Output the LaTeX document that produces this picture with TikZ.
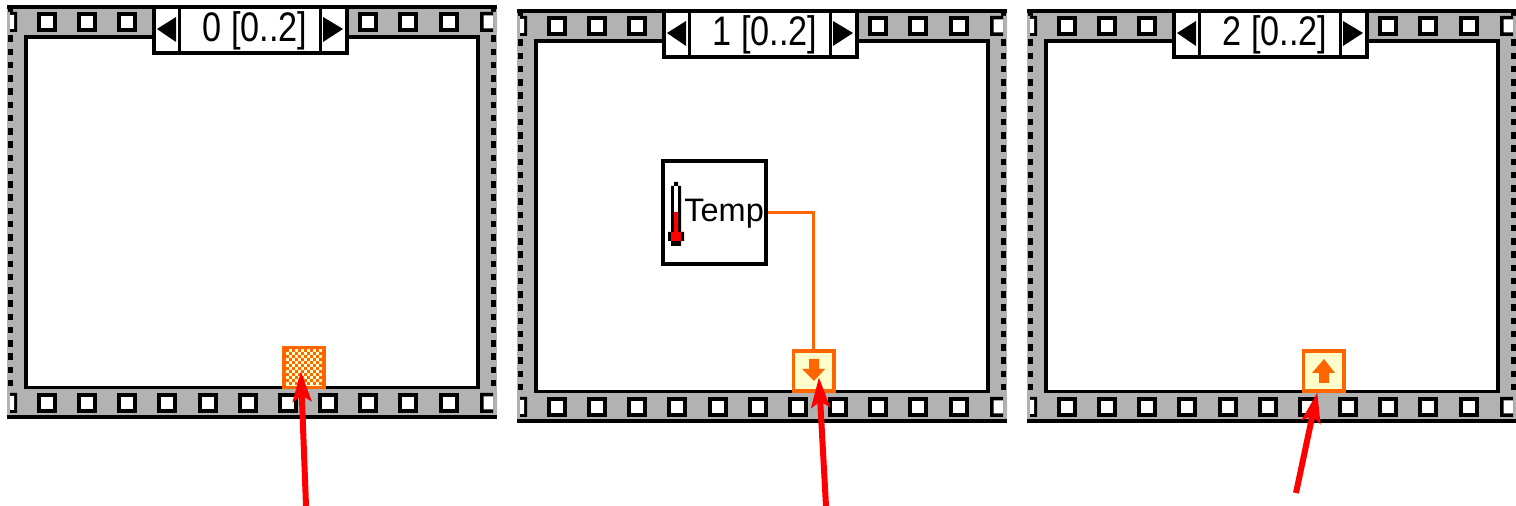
\documentclass[tikz,border=0pt]{standalone}
\usepackage{fontspec}
\setmainfont{Liberation Sans}
\newfontfamily\counterfont[FakeStretch=0.83]{Liberation Sans}
\usetikzlibrary{arrows.meta,calc}
\definecolor{filmgray}{HTML}{B2B2B2}
\definecolor{wireorange}{HTML}{FF6600}
\definecolor{tunnelfill}{HTML}{FFFFCC}

\begin{document}
\begin{tikzpicture}[
    x=0.02cm, y=-0.02cm,
    film/.style={rectangle, fill=filmgray, minimum width=9.8cm, minimum height=8.28cm, inner sep=0pt},
    pane/.style={rectangle, draw, line width=0.075cm, fill=white, minimum width=9.05cm, minimum height=7.01cm, inner sep=0pt},
    hole/.style={rectangle, draw, line width=0.08cm, fill=white, minimum width=0.32cm, minimum height=0.32cm, inner sep=0pt},
    stepper/.style={rectangle, draw, line width=0.07cm, fill=white, minimum height=0.92cm, inner sep=0pt},
    tunnel/.style={rectangle, draw=wireorange, line width=0.07cm, fill=tunnelfill, minimum width=0.81cm, minimum height=0.81cm, inner sep=0pt},
    countlabel/.style={font=\counterfont\fontsize{23.5}{24}\selectfont, inner sep=0pt},
    wire/.style={draw=wireorange, line width=0.065cm},
    pointer/.style={draw=red, line width=0.12cm, -{Stealth[length=0.6cm, width=0.37cm, inset=0.12cm]}, shorten >=-1pt}
]
\useasboundingbox (0,0) rectangle (1516,506);
% film frames
\foreach \i/\dx/\dy in {0/0/0, 1/510/4, 2/1020/4} {
  \begin{scope}[shift={(\dx,\dy)}]
    \node[film] (film\i) at (252,212) {};
    \draw[line width=0.08cm] (7,7) -- (497,7) (7,417.5) -- (497,417.5);
    % torn edges
    \draw[line width=0.1cm, dash pattern=on 0.13cm off 0.135cm] (10.5,9) -- (10.5,416);
    \draw[line width=0.1cm, dash pattern=on 0.13cm off 0.135cm] (493,9) -- (493,416);
    \node[pane] (pane\i) at (252,212.25) {};
    % sprocket holes
    \foreach \k in {0,...,10} {
      \node[hole] (low\i\k) at ({47+40.15*\k},403) {};
    }
    \foreach \k in {0,1,2,8,9,10} {
      \node[hole] (up\i\k) at ({47+40.15*\k},22) {};
    }
    % cut holes at the ends
    \foreach \y in {12,393} {
      \fill[filmgray] (7,\y) rectangle (17,\y+20) (480,\y) rectangle (497,\y+20);
      \fill (10,\y) rectangle (17,\y+20) (480,\y) rectangle (493,\y+20);
      \fill[white] (10,\y+3) rectangle (14,\y+17) (483.5,\y+3.5) rectangle (493,\y+16.5);
    }
    % frame counter
    \node[stepper, minimum width=3.87cm] (count\i) at (250.5,30) {};
    \draw[line width=0.07cm] (179.5,9) -- (179.5,53) (320.5,9) -- (320.5,53);
    \fill (157,29) -- (176,17) -- (176,42) -- cycle;
    \fill (343,29) -- (323,17) -- (323,42) -- cycle;
  \end{scope}
}
% frame numbers
\node[countlabel] (num0) at (255,31) {0 [0..2]};
\node[countlabel] (num1) at (765,35) {1 [0..2]};
\node[countlabel] (num2) at (1275,35) {2 [0..2]};

% sequence local, unwired
\node[tunnel] (local0) at (304,367.5) {};
\foreach \r in {0,...,11} {
  \foreach \c in {0,...,11} {
    \pgfmathparse{int(mod(\r+\c,2))}
    \ifnum\pgfmathresult=0
      \fill[wireorange] ({285.5+3*\c},{349.5+3*\r}) rectangle ++(3,3);
    \fi
  }
}

% temperature terminal
\node[rectangle, draw, line width=0.08cm, fill=white, minimum width=2.06cm, minimum height=2.06cm, inner sep=0pt] (temp) at (714.5,212.5) {};
\node[font=\fontsize{18.5}{18}\selectfont, inner sep=0pt, anchor=base west] (templabel) at (684,222) {Temp};
\fill (674,182) rectangle (678,186) (671,186) rectangle (681,232) (668,232) rectangle (684,241) (671,241) rectangle (681,246);
\fill[white] (674,186) rectangle (678,212);
\fill[red] (674,212) rectangle (678,232) (671,232) rectangle (681,241);

% sequence locals with arrows
\node[tunnel] (local1) at (813.5,371) {};
\fill[wireorange] (809,359) rectangle (819,369) (802,369) -- (825,369) -- (814,381) -- cycle;
\node[tunnel] (local2) at (1323.5,371) {};
\fill[wireorange] (1319,373) rectangle (1329,383) (1312,373) -- (1335,373) -- (1324,359) -- cycle;
\draw[wire] (temp.east) -| (local1.north);

% pointers
\coordinate (tail0) at (306,506);
\coordinate (tip0) at (301,373);
\coordinate (tail1) at (826,506);
\coordinate (tip1) at (819,379);
\coordinate (tail2) at (1296,493);
\coordinate (tip2) at (1317,394);
\draw[pointer] (tail0) -- (tip0);
\draw[pointer] (tail1) -- (tip1);
\draw[pointer] (tail2) -- (tip2);
\end{tikzpicture}
\end{document}
